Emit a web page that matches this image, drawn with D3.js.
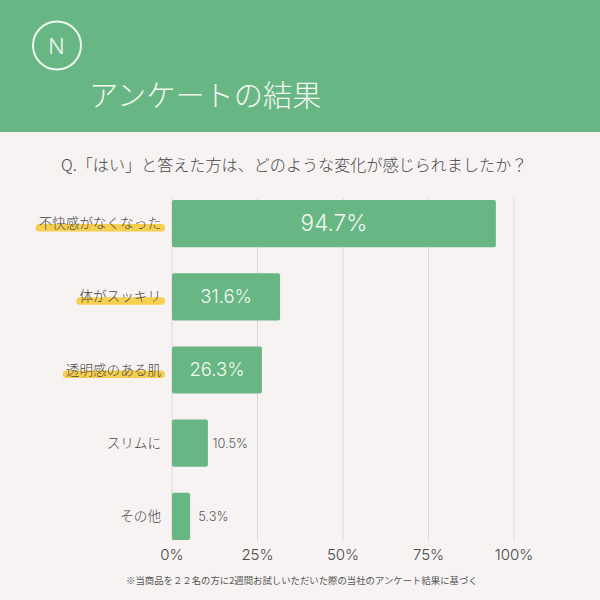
<!DOCTYPE html>
<html lang="ja">
<head>
<meta charset="utf-8">
<script src="https://cdn.jsdelivr.net/npm/d3@7"></script>
<style>
  html, body { margin: 0; padding: 0; background: #f6f3f2; }
  svg { display: block; }
  text { font-family: "Noto Sans CJK JP", "Noto Sans", sans-serif; }
  .num { font-family: Inter, "Liberation Sans", sans-serif; font-weight: 300; }
</style>
</head>
<body>
<div id="chart-container"></div>
<script>
// Data
const categories = ["不快感がなくなった", "体がスッキリ", "透明感のある肌", "スリムに", "その他"];
const percentValues = [94.7, 31.6, 26.3, 10.5, 5.3];
const valueLabels = ["94.7%", "31.6%", "26.3%", "10.5%", "5.3%"];
const highlighted = ["不快感がなくなった", "体がスッキリ", "透明感のある肌"];
const tickValues = [0, 25, 50, 75, 100];

const green = "#69b685";
const ink = "#484848";

const svg = d3.select("#chart-container")
    .append("svg")
    .attr("width", 600)
    .attr("height", 600);

// Background and header band
svg.append("rect").attr("width", 600).attr("height", 600).attr("fill", "#f6f3f2");
svg.append("rect").attr("width", 600).attr("height", 132).attr("fill", green);

// Logo
svg.append("circle")
    .attr("cx", 57).attr("cy", 45.5).attr("r", 24)
    .attr("fill", "none").attr("stroke", "#eef7ee").attr("stroke-width", 2);
svg.append("text")
    .attr("class", "num")
    .attr("x", 56.5).attr("y", 53.5)
    .attr("text-anchor", "middle")
    .attr("font-size", 21.5).attr("fill", "#eef7ee")
    .text("N");

// Titles
svg.append("text")
    .attr("x", 89).attr("y", 106)
    .attr("font-size", 29.2).attr("fill", "#f2f8f0").attr("font-weight", 300)
    .text("アンケートの結果");
svg.append("text")
    .attr("x", 61).attr("y", 171)
    .attr("font-size", 16.1).attr("fill", ink).attr("font-weight", 300)
    .text("Q.「はい」と答えた方は、どのような変化が感じられましたか？");

// Scales
const xScale = d3.scaleLinear().domain([0, 100]).range([172, 514]);
const yScale = d3.scaleBand()
    .domain(categories)
    .range([187, 553])
    .paddingInner(0.355)
    .paddingOuter(0.1775);

// Gridlines
svg.append("g").selectAll("line")
    .data(tickValues)
    .join("line")
    .attr("x1", d => xScale(d)).attr("x2", d => xScale(d))
    .attr("y1", 198).attr("y2", 541)
    .attr("stroke", "#dcdad8").attr("stroke-width", 1);

// Label highlights
const labelGroup = svg.append("g");
const labels = svg.append("g").selectAll("text")
    .data(categories)
    .join("text")
    .attr("x", 161)
    .attr("y", d => yScale(d) + yScale.bandwidth() / 2 + 4.5)
    .attr("text-anchor", "end")
    .attr("font-size", 13.6)
    .attr("font-weight", 300)
    .attr("fill", ink)
    .text(d => d);

labels.filter(d => highlighted.includes(d)).each(function(d) {
    const w = this.getComputedTextLength();
    labelGroup.append("rect")
        .attr("x", 161 - w - 3)
        .attr("y", yScale(d) + yScale.bandwidth() / 2 + 0.5)
        .attr("width", w + 7)
        .attr("height", 7.5)
        .attr("rx", 3.5)
        .attr("fill", "#f7cf4f");
});

// Bars
svg.append("g").selectAll("rect")
    .data(categories)
    .join("rect")
    .attr("x", xScale(0))
    .attr("y", d => yScale(d))
    .attr("width", (d, i) => xScale(percentValues[i]) - xScale(0))
    .attr("height", yScale.bandwidth())
    .attr("rx", 2)
    .attr("fill", green);

// Value labels: inside the bar for the large ones, beside it for the small ones
const valueFontSizes = [22.5, 18.5, 18.5, 12.8, 12.8];
svg.append("g").selectAll("text")
    .data(categories)
    .join("text")
    .attr("class", "num")
    .attr("x", (d, i) => percentValues[i] > 20
        ? (xScale(0) + xScale(percentValues[i])) / 2
        : xScale(percentValues[i]) + 4.5 + (percentValues[i] < 6 ? 3.5 : 0))
    .attr("y", (d, i) => yScale(d) + yScale.bandwidth() / 2 + valueFontSizes[i] * 0.35)
    .attr("text-anchor", (d, i) => percentValues[i] > 20 ? "middle" : "start")
    .attr("font-size", (d, i) => valueFontSizes[i])
    .attr("fill", (d, i) => percentValues[i] > 20 ? "#f2f8f0" : "#5c5c5c")
    .text((d, i) => valueLabels[i]);

// X axis labels
svg.append("g").selectAll("text")
    .data(tickValues)
    .join("text")
    .attr("class", "num")
    .attr("x", d => xScale(d))
    .attr("y", 560)
    .attr("text-anchor", "middle")
    .attr("font-size", 15)
    .attr("fill", ink)
    .text(d => d + "%");

// Footnote
svg.append("text")
    .attr("x", 126).attr("y", 584)
    .attr("font-size", 9.4).attr("fill", "#555")
    .text("※当商品を２２名の方に2週間お試しいただいた際の当社のアンケート結果に基づく");
</script>
</body>
</html>
